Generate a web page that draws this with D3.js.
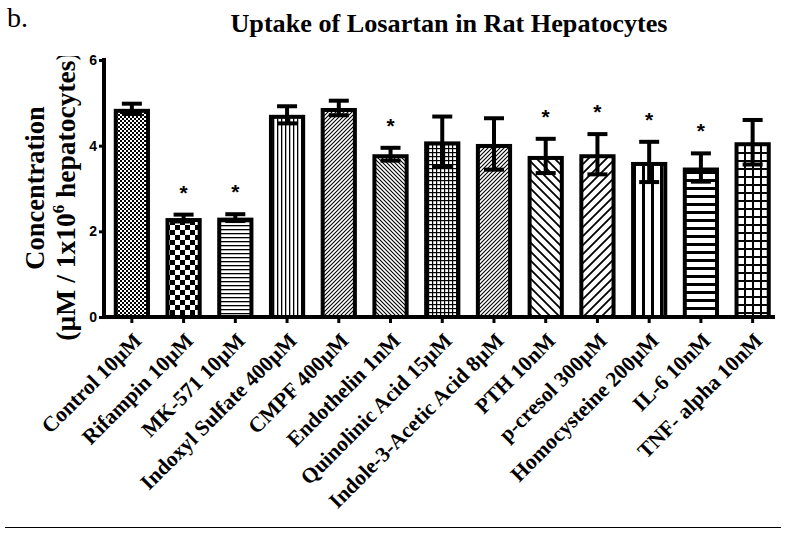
<!DOCTYPE html>
<html><head><meta charset="utf-8">
<script src="https://cdn.jsdelivr.net/npm/d3@7"></script>
<style>body{margin:0;background:#fff}svg{display:block}</style>
</head><body>
<svg id="c" width="792" height="536"></svg>
<script>
const categories = ["Control 10µM","Rifampin 10µM","MK-571 10µM","Indoxyl Sulfate 400µM","CMPF 400µM","Endothelin 1nM","Quinolinic Acid 15µM","Indole-3-Acetic Acid 8µM","PTH 10nM","p-cresol 300µM","Homocysteine 200µM","IL-6 10nM","TNF- alpha 10nM"];
const values = [4.86, 2.31, 2.32, 4.72, 4.88, 3.80, 4.10, 4.04, 3.76, 3.80, 3.62, 3.49, 4.08];
const errors = [0.12, 0.08, 0.08, 0.20, 0.17, 0.15, 0.58, 0.60, 0.40, 0.47, 0.47, 0.33, 0.52];
const significant = [false, true, true, false, false, true, false, false, true, true, true, true, false];
const patterns = ["fineCheck","check","hlinesFine","vlinesFine","diagUpFine","diagDownFine","gridFine","diagUpFine","diagDown","diagUp","vlines","hlines","grid"];
const yTicks = [0, 2, 4, 6];

const svg = d3.select("#c");
const defs = svg.append("defs");
function pat(id, size, draw) {
  const p = defs.append("pattern").attr("id", id).attr("patternUnits","userSpaceOnUse")
    .attr("width", size).attr("height", size);
  p.append("rect").attr("width", size).attr("height", size).attr("fill", "#fff");
  draw(p, size);
}
pat("fineCheck", 4, (p) => {
  p.append("rect").attr("width",2).attr("height",2).attr("fill","#000");
  p.append("rect").attr("x",2).attr("y",2).attr("width",2).attr("height",2).attr("fill","#000");
});
pat("check", 10, (p) => {
  p.append("rect").attr("width",5).attr("height",5).attr("fill","#000");
  p.append("rect").attr("x",5).attr("y",5).attr("width",5).attr("height",5).attr("fill","#000");
});
pat("hlinesFine", 4, (p) => p.append("rect").attr("y",1).attr("width",4).attr("height",1.3).attr("fill","#000"));
pat("vlinesFine", 4, (p) => p.append("rect").attr("x",1).attr("width",1.3).attr("height",4).attr("fill","#000"));
pat("hlines", 8, (p) => p.append("rect").attr("y",3).attr("width",8).attr("height",3).attr("fill","#000"));
pat("vlines", 9, (p) => p.append("rect").attr("x",3).attr("width",3).attr("height",9).attr("fill","#000"));
pat("gridFine", 4, (p) => {
  p.append("rect").attr("width",4).attr("height",1.2).attr("fill","#000");
  p.append("rect").attr("width",1.2).attr("height",4).attr("fill","#000");
});
pat("grid", 8, (p) => {
  p.append("rect").attr("width",8).attr("height",2).attr("fill","#000");
  p.append("rect").attr("width",2).attr("height",8).attr("fill","#000");
});
function diag(id, size, w, up) {
  pat(id, size, (p, s) => {
    const d = up ? `M0,${s} L${s},0 M${-s/2},${s/2} L${s/2},${-s/2} M${s/2},${s*1.5} L${s*1.5},${s/2}`
                 : `M0,0 L${s},${s} M${-s/2},${s/2} L${s/2},${s*1.5} M${s/2},${-s/2} L${s*1.5},${s/2}`;
    p.append("path").attr("d", d).attr("stroke","#000").attr("stroke-width", w);
  });
}
diag("diagUpFine", 4, 1.1, true);
diag("diagDownFine", 4, 1.1, false);
diag("diagUp", 9, 1.8, true);
diag("diagDown", 9, 1.8, false);

const x = d3.scaleBand().domain(categories).range([106, 778.5]).paddingInner(0.3).paddingOuter(0.15);
const y = d3.scaleLinear().domain([0, 6]).range([317, 60]);
const axisX0 = 104;

// bars
const bw = x.bandwidth();
const sw = 4;
svg.append("g").selectAll("rect").data(categories).join("rect")
  .attr("x", (d) => x(d) + sw/2)
  .attr("y", (d, i) => y(values[i]) + sw/2)
  .attr("width", bw - sw)
  .attr("height", (d, i) => y(0) - y(values[i]) - sw/2)
  .attr("fill", (d, i) => `url(#${patterns[i]})`)
  .attr("stroke", "#000").attr("stroke-width", sw);

// error bars
const eg = svg.append("g").attr("stroke","#000").attr("stroke-width",4);
categories.forEach((c, i) => {
  const cx = x(c) + bw/2;
  const hi = y(values[i] + errors[i]), lo = y(values[i] - errors[i]);
  eg.append("line").attr("x1",cx).attr("x2",cx).attr("y1",hi).attr("y2",lo);
  eg.append("line").attr("x1",cx-10).attr("x2",cx+10).attr("y1",hi).attr("y2",hi);
  eg.append("line").attr("x1",cx-10).attr("x2",cx+10).attr("y1",lo).attr("y2",lo);
});

// stars
svg.append("g").selectAll("text").data(categories.filter((c, i) => significant[i])).join("text")
  .attr("x", (d) => x(d) + bw/2)
  .attr("y", (d) => { const i = categories.indexOf(d); return y(values[i] + errors[i]) - 15; })
  .attr("text-anchor","middle")
  .attr("font-family","Liberation Sans, Arial, sans-serif").attr("font-weight","bold").attr("font-size",21)
  .text("*");

// y axis
const ya = svg.append("g").attr("transform", `translate(${axisX0},0)`)
  .call(d3.axisLeft(y).tickValues(yTicks).tickFormat(d3.format("d")).tickSize(5).tickPadding(2).tickSizeOuter(0));
ya.select(".domain").attr("stroke-width", 4).attr("d", `M0,${y(6)-2}V${y(0)+2}`);
ya.selectAll(".tick line").attr("stroke-width", 3);
ya.selectAll(".tick text").attr("font-family","Liberation Sans, Arial, sans-serif")
  .attr("font-weight","bold").attr("font-size",14).attr("fill","#000");

// x axis
const xa = svg.append("g").attr("transform", `translate(0,${y(0)})`)
  .call(d3.axisBottom(x).tickSize(6).tickSizeOuter(0).tickFormat(""));
xa.select(".domain").attr("stroke-width", 4).attr("d", `M${axisX0-2},0H775`);
xa.selectAll(".tick line").attr("stroke-width", 3);

svg.append("g").selectAll("text").data(categories).join("text")
  .attr("transform", (d) => `translate(${x(d) + bw/2 + 11},${y(0) + 25}) rotate(-45)`)
  .attr("text-anchor","end")
  .attr("font-family","Liberation Serif, Times New Roman, serif").attr("font-weight","bold").attr("font-size",21.5)
  .text((d) => d);

// title
svg.append("text").attr("x", 449).attr("y", 32).attr("text-anchor","middle")
  .attr("font-family","Liberation Serif, Times New Roman, serif").attr("font-weight","bold").attr("font-size",26.2)
  .text("Uptake of Losartan in Rat Hepatocytes");
svg.append("text").attr("x", 7).attr("y", 27)
  .attr("font-family","Liberation Serif, Times New Roman, serif").attr("font-size",28)
  .text("b.");

// y label
defs.append("clipPath").attr("id","ylc").append("rect").attr("x",0).attr("y",56).attr("width",100).attr("height",480);
const yl = svg.append("g").attr("clip-path","url(#ylc)");
yl.append("text").attr("transform","translate(44,188) rotate(-90)").attr("text-anchor","middle")
  .attr("font-family","Liberation Serif, Times New Roman, serif").attr("font-weight","bold").attr("font-size",26.5)
  .text("Concentration");
const t2 = yl.append("text").attr("transform","translate(75,196) rotate(-90)").attr("text-anchor","middle")
  .attr("font-family","Liberation Serif, Times New Roman, serif").attr("font-weight","bold").attr("font-size",27.5);
t2.append("tspan").text("(µM / 1x10");
t2.append("tspan").attr("font-size",17).attr("dy",-11).text("6");
t2.append("tspan").attr("dy",11).text(" hepatocytes)");

// bottom rule
svg.append("line").attr("x1",5).attr("x2",781).attr("y1",527.5).attr("y2",527.5).attr("stroke","#000").attr("stroke-width",1);
</script>
</body></html>
